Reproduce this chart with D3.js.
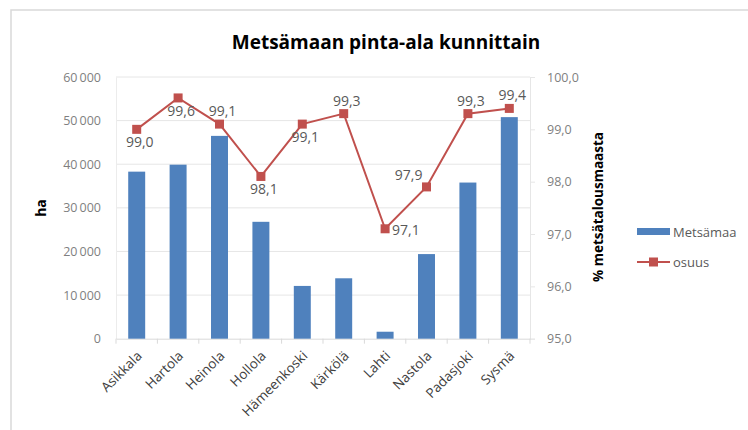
<!DOCTYPE html>
<html lang="fi">
<head>
<meta charset="UTF-8">
<title>Metsämaan pinta-ala kunnittain</title>
<script src="https://d3js.org/d3.v7.min.js"></script>
<style>
  body { margin: 0; background: #fff; }
  svg text { font-family: "Open Sans", "Liberation Sans", sans-serif; }
</style>
</head>
<body>
<svg id="chart" width="748" height="430"></svg>
<script>
const kunnat = ["Asikkala", "Hartola", "Heinola", "Hollola", "Hämeenkoski", "Kärkölä", "Lahti", "Nastola", "Padasjoki", "Sysmä"];
const metsamaa = [38300, 39900, 46500, 26800, 12100, 13850, 1600, 19400, 35800, 50800];
const osuus = [99.0, 99.6, 99.1, 98.1, 99.1, 99.3, 97.1, 97.9, 99.3, 99.4];
// where each data label sits relative to its marker
const labelPaikka = ["below", "below", "above", "below", "below", "above", "right", "upleft", "above", "above"];
const haTicks = [0, 10000, 20000, 30000, 40000, 50000, 60000];
const pctTicks = [95, 96, 97, 98, 99, 100];

const svg = d3.select("#chart");
const plotL = 116, plotR = 530, plotT = 77, plotB = 338.7;

// chart frame
svg.append("rect").attr("x", 11).attr("y", 10).attr("width", 800).attr("height", 500)
  .attr("fill", "none").attr("stroke", "#d9d9d9").attr("stroke-width", 1.5);

const x = d3.scaleBand().domain(kunnat).range([plotL, plotR]).paddingInner(0.59).paddingOuter(0.295);
const xb = d3.scaleBand().domain(kunnat).range([plotL, plotR]);
const y = d3.scaleLinear().domain([0, 60000]).range([plotB, plotT]);
const y2 = d3.scaleLinear().domain([95, 100]).range([plotB, plotT]);

const fmtHa = d => d3.format(",")(d).replace(/,/g, "\u2009");
const fmtPct = d => d3.format(".1f")(d).replace(".", ",");

// gridlines
svg.append("g").selectAll("line").data(haTicks.slice(1)).join("line")
  .attr("x1", plotL).attr("x2", plotR).attr("y1", d => y(d)).attr("y2", d => y(d))
  .attr("stroke", "#e6e6e6").attr("stroke-width", 1);

// left axis
const gl = svg.append("g").attr("transform", `translate(${plotL},0)`)
  .call(d3.axisLeft(y).tickValues(haTicks).tickFormat(fmtHa).tickSize(0).tickPadding(15));
gl.select(".domain").attr("stroke", "#ececec");
gl.selectAll("text").attr("fill", "#7f7f7f").style("font-size", "12.5px");

// right axis
const gr = svg.append("g").attr("transform", `translate(${plotR},0)`)
  .call(d3.axisRight(y2).tickValues(pctTicks).tickFormat(fmtPct).tickSize(5).tickPadding(12));
gr.select(".domain").attr("stroke", "#e6e6e6");
gr.selectAll(".tick line").attr("stroke", "#e6e6e6");
gr.selectAll("text").attr("fill", "#7f7f7f").style("font-size", "12.5px");

// bottom axis
const gb = svg.append("g").attr("transform", `translate(0,${plotB})`)
  .call(d3.axisBottom(xb).tickSize(0).tickFormat(""));
gb.select(".domain").attr("stroke", "#d9d9d9");
svg.append("g").selectAll("line").data(kunnat.concat([null])).join("line")
  .attr("x1", (d, i) => plotL + i * xb.step()).attr("x2", (d, i) => plotL + i * xb.step())
  .attr("y1", plotB).attr("y2", plotB + 5).attr("stroke", "#d9d9d9");
svg.append("g").selectAll("text").data(kunnat).join("text")
  .attr("transform", d => `translate(${xb(d) + xb.bandwidth() / 2 + 6},${plotB + 18}) rotate(-45)`)
  .attr("text-anchor", "end").attr("fill", "#404040").style("font-size", "13.5px")
  .text(d => d);

// bars
svg.append("g").selectAll("rect").data(metsamaa).join("rect")
  .attr("x", (d, i) => x(kunnat[i])).attr("width", x.bandwidth())
  .attr("y", d => y(d)).attr("height", d => plotB - y(d))
  .attr("fill", "#4f81bd");

// line
const cx = i => xb(kunnat[i]) + xb.bandwidth() / 2;
svg.append("path").datum(osuus)
  .attr("d", d3.line().x((d, i) => cx(i)).y(d => y2(d)))
  .attr("fill", "none").attr("stroke", "#c0504d").attr("stroke-width", 2);
svg.append("g").selectAll("rect").data(osuus).join("rect")
  .attr("x", (d, i) => cx(i) - 4.5).attr("y", d => y2(d) - 4.5)
  .attr("width", 9).attr("height", 9).attr("fill", "#c0504d");

// data labels
svg.append("g").selectAll("text").data(osuus).join("text")
  .attr("x", (d, i) => {
    const p = labelPaikka[i];
    if (p === "right") return cx(i) + 7;
    if (p === "upleft") return cx(i) - 4;
    return cx(i) + 3;
  })
  .attr("y", (d, i) => {
    const p = labelPaikka[i];
    if (p === "below") return y2(d) + 18;
    if (p === "above") return y2(d) - 8;
    if (p === "right") return y2(d) + 6;
    return y2(d) - 7;
  })
  .attr("text-anchor", (d, i) => labelPaikka[i] === "right" ? "start" : labelPaikka[i] === "upleft" ? "end" : "middle")
  .attr("fill", "#595959").style("font-size", "14px")
  .text(d => fmtPct(d));

// title
svg.append("text").attr("x", 386).attr("y", 49).attr("text-anchor", "middle")
  .style("font-size", "19px").style("font-weight", "bold").attr("fill", "#000")
  .text("Metsämaan pinta-ala kunnittain");

// axis titles
svg.append("text").attr("transform", "translate(46,208) rotate(-90)").attr("text-anchor", "middle")
  .style("font-size", "14px").style("font-weight", "bold").attr("fill", "#000").text("ha");
svg.append("text").attr("transform", "translate(603,207) rotate(-90)").attr("text-anchor", "middle")
  .style("font-size", "13.5px").style("font-weight", "bold").attr("fill", "#000").text("% metsätalousmaasta");

// legend
const lg = svg.append("g");
lg.append("rect").attr("x", 637).attr("y", 228).attr("width", 33).attr("height", 7).attr("fill", "#4f81bd");
lg.append("text").attr("x", 673).attr("y", 236.5).attr("fill", "#595959").style("font-size", "13px").text("Metsämaa");
lg.append("line").attr("x1", 637).attr("x2", 670).attr("y1", 262).attr("y2", 262).attr("stroke", "#c0504d").attr("stroke-width", 2);
lg.append("rect").attr("x", 649).attr("y", 257.5).attr("width", 9).attr("height", 9).attr("fill", "#c0504d");
lg.append("text").attr("x", 673).attr("y", 266.5).attr("fill", "#595959").style("font-size", "13px").text("osuus");
</script>
</body>
</html>
